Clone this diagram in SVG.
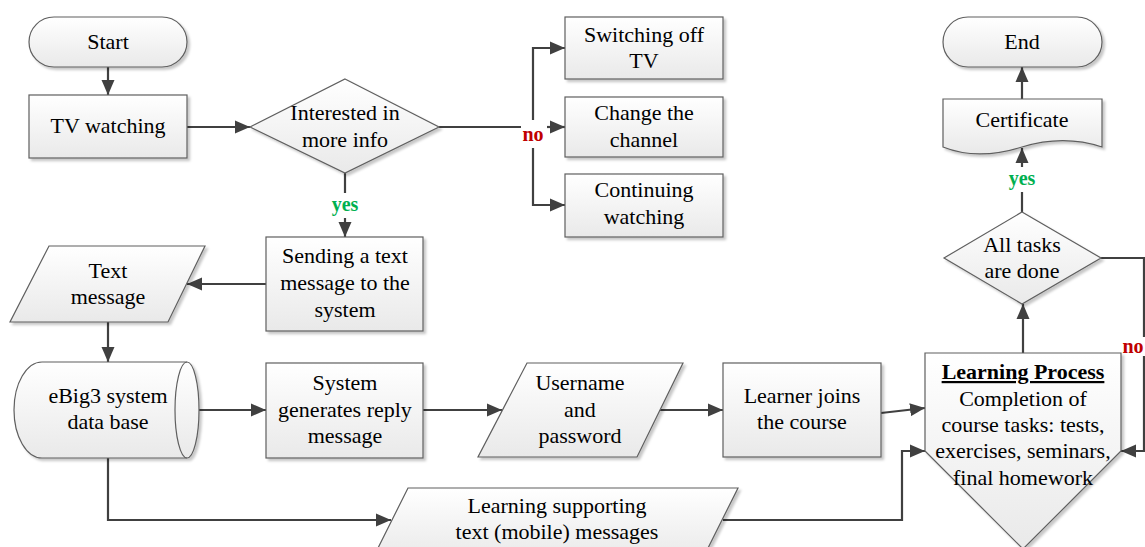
<svg xmlns="http://www.w3.org/2000/svg" width="1145" height="547" viewBox="0 0 1145 547" font-family="Liberation Serif, Times New Roman, serif">
<defs>
<linearGradient id="fillg" x1="0" y1="0" x2="0" y2="1">
<stop offset="0" stop-color="#ffffff"/>
<stop offset="1" stop-color="#e9e9e9"/>
</linearGradient>
<filter id="sh" x="-10%" y="-10%" width="130%" height="130%">
<feDropShadow dx="2.5" dy="2.5" stdDeviation="1.2" flood-color="#000" flood-opacity="0.22"/>
</filter>
<marker id="arr" markerUnits="userSpaceOnUse" markerWidth="16" markerHeight="14" refX="15" refY="7" orient="auto">
<path d="M0,0.5 L15,7 L0,13.5 Z" fill="#404040"/>
</marker>
<style>
.shape{fill:url(#fillg);stroke:#5f5f5f;stroke-width:1.2;filter:url(#sh)}
.t{font-size:22px;fill:#000;text-anchor:middle}
.c{fill:none;stroke:#404040;stroke-width:2.2}
.ca{fill:none;stroke:#404040;stroke-width:2.2;marker-end:url(#arr)}
.yes{font-size:20px;font-weight:bold;fill:#00b050;text-anchor:middle}
.no{font-size:20px;font-weight:bold;fill:#c00000;text-anchor:middle}
.bg{fill:#ffffff}
</style>
</defs>
<rect width="1145" height="547" fill="#ffffff"/>

<g id="connectors">
<path class="ca" d="M108,67 V95"/>
<path class="ca" d="M187,127 H250"/>
<path class="ca" d="M345,173 V237"/>
<path class="c" d="M439,127 H533"/>
<path class="ca" d="M533,127 V48 H565"/>
<path class="ca" d="M533,127 H565"/>
<path class="ca" d="M533,127 V205 H565"/>
<path class="ca" d="M266,284 H187"/>
<path class="ca" d="M108,322 V362"/>
<path class="ca" d="M187,410 H266"/>
<path class="ca" d="M423,410 H502"/>
<path class="ca" d="M659,410 H723"/>
<path class="ca" d="M881,413 L925,408"/>
<path class="ca" d="M108,458 V520 H391"/>
<path class="ca" d="M723,520 H902 V451 H925"/>
<path class="ca" d="M1023,353 V304"/>
<path class="ca" d="M1022,212 V148"/>
<path class="ca" d="M1022,99 V67"/>
<path class="ca" d="M1101,258 H1144 V451 H1121"/>
<rect class="bg" x="326" y="193" width="38" height="25"/>
<text class="yes" x="345" y="211">yes</text>
<rect class="bg" x="521" y="120" width="26" height="28"/>
<text class="no" x="533" y="141">no</text>
<rect class="bg" x="1003" y="167" width="38" height="25"/>
<text class="yes" x="1022" y="185">yes</text>
<rect class="bg" x="1121" y="337" width="24" height="19"/>
<text class="no" x="1133" y="353">no</text>
</g>

<g id="start">
<rect class="shape" x="29" y="17" width="158" height="50" rx="25" ry="25"/>
<text class="t" x="108" y="49">Start</text>
</g>

<g id="tv-watching">
<rect class="shape" x="29" y="95" width="158" height="63"/>
<text class="t" x="108" y="133">TV watching</text>
</g>

<g id="interested">
<path class="shape" d="M345,79 L439,127 L345,173 L250,127 Z"/>
<text class="t" x="345" y="120">Interested in</text>
<text class="t" x="345" y="147">more info</text>
</g>

<g id="switching-off">
<rect class="shape" x="565" y="17" width="158" height="62"/>
<text class="t" x="644" y="42">Switching off</text>
<text class="t" x="644" y="68">TV</text>
</g>

<g id="change-channel">
<rect class="shape" x="565" y="97" width="158" height="60"/>
<text class="t" x="644" y="120">Change the</text>
<text class="t" x="644" y="147">channel</text>
</g>

<g id="continuing">
<rect class="shape" x="565" y="174" width="158" height="63"/>
<text class="t" x="644" y="197">Continuing</text>
<text class="t" x="644" y="224">watching</text>
</g>

<g id="sending">
<rect class="shape" x="266" y="237" width="157" height="94"/>
<text class="t" x="345" y="263">Sending a text</text>
<text class="t" x="345" y="290">message to the</text>
<text class="t" x="345" y="317">system</text>
</g>

<g id="text-message">
<path class="shape" d="M49,246 H205 L168,322 H10 Z"/>
<text class="t" x="108" y="278">Text</text>
<text class="t" x="108" y="304">message</text>
</g>

<g id="database">
<path class="shape" d="M42,362 H187 A12,48 0 0 1 187,458 H42 A28,48 0 0 1 42,362 Z"/>
<path fill="none" stroke="#5f5f5f" stroke-width="1.2" d="M187,362 A12,48 0 0 0 187,458"/>
<text class="t" x="108" y="403">eBig3 system</text>
<text class="t" x="108" y="429">data base</text>
</g>

<g id="system-generates">
<rect class="shape" x="266" y="363" width="157" height="95"/>
<text class="t" x="345" y="390">System</text>
<text class="t" x="345" y="417">generates reply</text>
<text class="t" x="345" y="443">message</text>
</g>

<g id="username">
<path class="shape" d="M527,363 H683 L637,457 H478 Z"/>
<text class="t" x="580" y="390">Username</text>
<text class="t" x="580" y="417">and</text>
<text class="t" x="580" y="443">password</text>
</g>

<g id="learner-joins">
<rect class="shape" x="723" y="363" width="158" height="94"/>
<text class="t" x="802" y="403">Learner joins</text>
<text class="t" x="802" y="429">the course</text>
</g>

<g id="learning-supporting">
<path class="shape" d="M408,488 H738 L702,560 H372 Z"/>
<text class="t" x="557" y="513">Learning supporting</text>
<text class="t" x="557" y="539">text (mobile) messages</text>
</g>

<g id="learning-process">
<path class="shape" d="M925,353 H1121 V451 L1023,549 L925,451 Z"/>
<text class="t" x="1023" y="379" font-weight="bold" text-decoration="underline">Learning Process</text>
<text class="t" x="1023" y="406">Completion of</text>
<text class="t" x="1023" y="432">course tasks: tests,</text>
<text class="t" x="1023" y="458">exercises, seminars,</text>
<text class="t" x="1023" y="485">final homework</text>
</g>

<g id="all-tasks">
<path class="shape" d="M1022,212 L1101,258 L1022,304 L944,258 Z"/>
<text class="t" x="1022" y="252">All tasks</text>
<text class="t" x="1022" y="278">are done</text>
</g>

<g id="certificate">
<path class="shape" d="M943,99 H1102 V147 C1075,138 1048,139 1022,147 C996,155 968,157 943,147 Z"/>
<text class="t" x="1022" y="127">Certificate</text>
</g>

<g id="end">
<rect class="shape" x="943" y="17" width="159" height="50" rx="25" ry="25"/>
<text class="t" x="1022" y="49">End</text>
</g>
</svg>
